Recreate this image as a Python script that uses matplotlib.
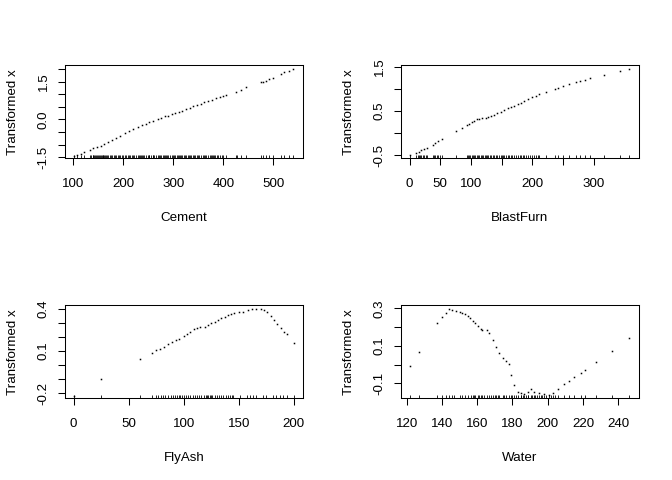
import matplotlib
matplotlib.use("Agg")
import matplotlib.pyplot as plt
import matplotlib.transforms as mtransforms

plt.rcParams['font.family'] = ['Liberation Sans', 'DejaVu Sans']
plt.rcParams['axes.unicode_minus'] = False

# ---- Cement ----
cement_x = [102, 108, 116, 122, 133, 140, 148, 155, 162, 170, 178, 186, 194, 203, 212,
            220, 229, 238, 245, 252, 260, 269, 276, 284, 290, 297, 304, 312, 318, 326,
            333, 340, 348, 355, 362, 370, 378, 385, 393, 400, 405, 425, 436, 446, 475,
            480, 485, 491, 500, 516, 522, 531, 540]
cement_y = [-1.47, -1.43, -1.36, -1.30, -1.21, -1.15, -1.10, -1.04, -0.98, -0.90, -0.80,
            -0.72, -0.64, -0.55, -0.46, -0.40, -0.32, -0.23, -0.17, -0.12, -0.06, 0.02,
            0.07, 0.12, 0.15, 0.21, 0.26, 0.31, 0.35, 0.41, 0.46, 0.52, 0.57, 0.63, 0.68,
            0.73, 0.79, 0.84, 0.89, 0.94, 0.98, 1.10, 1.18, 1.27, 1.47, 1.50, 1.54, 1.59,
            1.66, 1.82, 1.87, 1.94, 2.02]
cement_rug = [102, 108, 116, 122, 133, 136, 139, 140, 142, 144, 146, 148, 150, 152, 153,
              155, 157, 159, 160, 162, 164, 166, 168, 170, 173, 175, 178, 181, 183, 186,
              190, 192, 194, 198, 200, 203, 205, 210, 212, 214, 218, 220, 222, 225, 229,
              231, 233, 236, 238, 240, 242, 245, 249, 251, 252, 255, 259, 260, 262, 266,
              269, 272, 274, 276, 279, 281, 284, 286, 288, 290, 294, 297, 300, 302, 304,
              307, 310, 312, 314, 316, 318, 321, 323, 326, 329, 331, 333, 336, 339, 342,
              344, 348, 350, 352, 355, 359, 362, 364, 366, 370, 374, 376, 378, 380, 382,
              384, 387, 389, 393, 397, 400, 405, 425, 427, 436, 446, 475, 480, 485, 491,
              500, 516, 522, 531, 540]

# ---- BlastFurn ----
blast_x = [0, 11, 15, 19, 24, 28, 38, 42, 47, 52, 76, 86, 93, 97, 101, 105, 109, 113,
           118, 124, 128, 133, 138, 143, 148, 154, 160, 165, 170, 176, 182, 187, 193, 199,
           205, 211, 222, 236, 241, 249, 260, 271, 277, 285, 293, 317, 342, 358]
blast_y = [-0.50, -0.44, -0.42, -0.39, -0.36, -0.33, -0.26, -0.23, -0.18, -0.14, 0.05,
           0.12, 0.18, 0.21, 0.25, 0.28, 0.31, 0.33, 0.34, 0.35, 0.37, 0.39, 0.42, 0.45,
           0.48, 0.52, 0.56, 0.59, 0.62, 0.65, 0.69, 0.72, 0.77, 0.81, 0.85, 0.88, 0.93,
           1.00, 1.02, 1.06, 1.11, 1.15, 1.17, 1.20, 1.24, 1.31, 1.41, 1.46]
blast_rug = [0, 11, 13, 15, 17, 19, 22, 24, 26, 28, 38, 40, 42, 45, 47, 50, 52, 76, 93,
             95, 97, 99, 101, 103, 105, 107, 109, 111, 113, 116, 118, 120, 122, 124, 126,
             128, 131, 133, 135, 138, 140, 143, 145, 148, 150, 152, 154, 157, 160, 162,
             165, 167, 170, 173, 176, 179, 182, 185, 187, 190, 193, 196, 199, 202, 205,
             209, 211, 222, 236, 241, 249, 260, 271, 277, 285, 293, 317, 342, 358]

# ---- FlyAsh ----
fly_x = [0, 24.5, 60, 71, 75, 78, 82, 86, 89, 93, 96, 100, 103, 106, 109, 112, 115, 119,
         122, 125, 128, 131, 134, 137, 140, 143, 146, 150, 154, 158, 162, 166, 170, 173,
         176, 179, 182, 185, 188, 191, 194, 200]
fly_y = [-0.22, -0.10, 0.045, 0.09, 0.105, 0.115, 0.13, 0.15, 0.165, 0.18, 0.19, 0.205,
         0.22, 0.24, 0.255, 0.265, 0.27, 0.275, 0.285, 0.30, 0.31, 0.325, 0.335, 0.345,
         0.355, 0.362, 0.37, 0.377, 0.382, 0.39, 0.397, 0.40, 0.402, 0.395, 0.38, 0.35,
         0.32, 0.29, 0.265, 0.24, 0.22, 0.16]
fly_rug = [0, 24.5, 60, 71, 75, 77, 79, 81, 83, 86, 88, 90, 92, 94, 96, 97, 98, 100, 102,
           104, 106, 108, 110, 112, 114, 116, 118, 120, 121, 122, 124, 125, 126, 128, 130,
           132, 134, 136, 138, 140, 142, 144, 145, 151, 157, 160, 163, 166, 172, 175, 181,
           184, 187, 190, 194, 200]

# ---- Water ----
water_x = [121.8, 126.8, 137.5, 140, 142.3, 144.2, 146, 148, 150, 151.4, 153, 154.6, 156,
           157.4, 159, 160.3, 162, 163, 165.4, 166.9, 168.8, 170.7, 172.6, 174.4, 176.3,
           177.8, 179.2, 181, 183, 184.8, 186.7, 188.6, 190.5, 192.4, 195.2, 198, 200.9,
           202.8, 205.6, 209.4, 212.2, 215, 218.9, 221.3, 227.4, 236.4, 245.9]
water_y = [-0.008, 0.067, 0.22, 0.252, 0.277, 0.294, 0.29, 0.287, 0.282, 0.277, 0.268,
           0.259, 0.247, 0.234, 0.22, 0.206, 0.192, 0.184, 0.184, 0.166, 0.131, 0.095,
           0.06, 0.033, 0.021, 0.003, -0.056, -0.109, -0.144, -0.153, -0.157, -0.144,
           -0.128, -0.144, -0.153, -0.159, -0.162, -0.153, -0.128, -0.102, -0.086, -0.068,
           -0.043, -0.029, 0.015, 0.074, 0.143]
water_rug = [121.8, 126.8, 137.5, 140, 142.3, 144.2, 146, 147, 150, 151.4, 153, 154.6,
             156.5, 157.4, 158, 159, 160.3, 161, 162, 163, 164, 165.4, 166.9, 168, 168.8,
             170, 170.7, 172, 172.6, 174.4, 175, 176.3, 177.8, 179.2, 180, 181, 182, 183,
             184.8, 185, 186, 186.7, 187.5, 188.6, 189, 190.5, 191, 192.4, 193, 194,
             195.2, 196, 197, 198, 199, 200.9, 202, 202.8, 204, 205.6, 209.4, 212.2, 215,
             218.9, 221.3, 227.4, 236.4, 245.9]

panels = [
    ("Cement", cement_x, cement_y, cement_rug, (83.3, 558.7), (-1.55, 2.16),
     [100, 200, 300, 400, 500], [100, 200, 300, 400, 500],
     [-1.5, -1.0, -0.5, 0.0, 0.5, 1.0, 1.5, 2.0], ["-1.5", "", "", "0.0", "", "", "1.5", ""]),
    ("BlastFurn", blast_x, blast_y, blast_rug, (-14.1, 373), (-0.57, 1.54),
     [0, 50, 100, 150, 200, 250, 300], ["0", "50", "100", "", "200", "", "300"],
     [-0.5, 0.0, 0.5, 1.0, 1.5], ["-0.5", "", "0.5", "", "1.5"]),
    ("FlyAsh", fly_x, fly_y, fly_rug, (-7.9, 208), (-0.236, 0.428),
     [0, 50, 100, 150, 200], [0, 50, 100, 150, 200],
     [-0.2, -0.1, 0.0, 0.1, 0.2, 0.3, 0.4], ["-0.2", "", "", "0.1", "", "", "0.4"]),
    ("Water", water_x, water_y, water_rug, (116.8, 251.6), (-0.18, 0.317),
     [120, 140, 160, 180, 200, 220, 240], [120, 140, 160, 180, 200, 220, 240],
     [-0.1, 0.0, 0.1, 0.2, 0.3], ["-0.1", "", "0.1", "", "0.3"]),
]

fig = plt.figure(figsize=(6.72, 4.8), dpi=100)
positions = [(0.0967, 0.670), (0.5967, 0.670), (0.0967, 0.170), (0.5967, 0.170)]

for (name, xs, ys, rug, xlim, ylim, xt, xtl, yt, ytl), (l, b) in zip(panels, positions):
    ax = fig.add_axes([l, b, 0.3537, 0.1944])
    ax.plot(xs, ys, linestyle="none", marker="s", markersize=1.1, color="black", mew=0)
    trans = mtransforms.blended_transform_factory(ax.transData, ax.transAxes)
    ax.vlines(rug, 0, 0.04, transform=trans, color="black", linewidth=0.6)
    ax.set_xlim(*xlim)
    ax.set_ylim(*ylim)
    ax.set_xticks(xt)
    ax.set_xticklabels(xtl)
    ax.set_yticks(yt)
    ax.set_yticklabels(ytl, rotation=90, va="center")
    ax.tick_params(length=5, width=0.75, labelsize=9.6, pad=9)
    ax.tick_params(axis="y", pad=6)
    for s in ax.spines.values():
        s.set_linewidth(0.75)
    ax.set_xlabel(name, fontsize=9.6)
    ax.xaxis.set_label_coords(0.5, -0.64)
    ax.xaxis.label.set_va("center")
    ax.set_ylabel("Transformed x", fontsize=9.6)
    ax.yaxis.set_label_coords(-0.219, 0.5)
    ax.yaxis.label.set_va("center")

fig.savefig("out.png", dpi=100)
